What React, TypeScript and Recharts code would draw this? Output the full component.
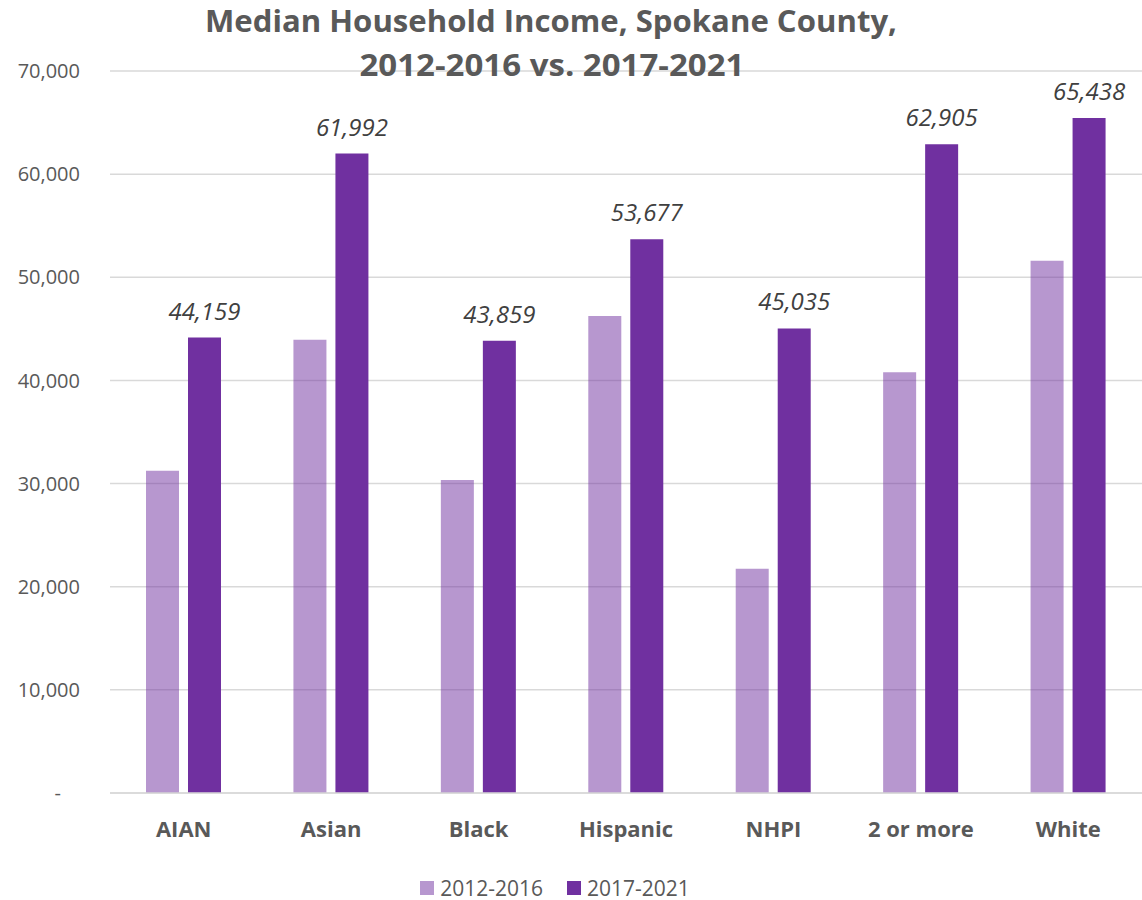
import React from "react";
import { BarChart, Bar, XAxis, YAxis, CartesianGrid, Legend, LabelList } from "recharts";

const categories = ["AIAN", "Asian", "Black", "Hispanic", "NHPI", "2 or more", "White"];
const income2012_2016 = [31250, 43950, 30350, 46250, 21750, 40800, 51600];
const income2017_2021 = [44159, 61992, 43859, 53677, 45035, 62905, 65438];
const yTicks = [0, 10000, 20000, 30000, 40000, 50000, 60000, 70000];
const seriesNames = ["2012-2016", "2017-2021"];
const titleLines = ["Median Household Income, Spokane County,", "2012-2016 vs. 2017-2021"];

const data = categories.map((c, i) => ({
  name: c,
  a: income2012_2016[i],
  b: income2017_2021[i],
}));

const PURPLE = "#7030A0";
const GREY = "#595959";
const FONT = "'Open Sans', sans-serif";

const fmt = (v: number) => v.toLocaleString("en-US");

const YTick = (props: any) => {
  const { x, y, payload } = props;
  const v = payload.value;
  return (
    <text
      x={v === 0 ? x - 19 : x}
      y={y}
      dy="0.355em"
      textAnchor="end"
      fill={GREY}
      fontFamily={FONT}
      fontSize={20}
    >
      {v === 0 ? "-" : fmt(v)}
    </text>
  );
};

const LegendContent = () => (
  <div
    style={{
      display: "flex",
      justifyContent: "center",
      alignItems: "center",
      height: 47,
      paddingTop: 22,
      boxSizing: "border-box",
      fontFamily: FONT,
      fontSize: 21,
      color: GREY,
      marginLeft: -32,
    }}
  >
    {seriesNames.map((n, i) => (
      <div key={n} style={{ display: "flex", alignItems: "center", marginRight: i === 0 ? 24 : 0 }}>
        <span
          style={{
            display: "inline-block",
            width: 14,
            height: 14,
            background: PURPLE,
            opacity: i === 0 ? 0.5 : 1,
            marginRight: 6,
          }}
        />
        <span>{n}</span>
      </div>
    ))}
  </div>
);

export default function App() {
  return (
    <div style={{ position: "absolute", left: 0, top: 0, width: 1142, height: 900, background: "#fff" }}>
      <BarChart
        width={1142}
        height={900}
        data={data}
        margin={{ top: 71, right: 0, bottom: 0, left: 0 }}
        barSize={33}
        barGap={9}
      >
        <CartesianGrid vertical={false} stroke="#D9D9D9" strokeWidth={1.5} />
        <XAxis
          dataKey="name"
          height={60}
          axisLine={{ stroke: "#D9D9D9", strokeWidth: 1.5 }}
          tickLine={false}
          tickSize={0}
          tickMargin={28}
          tick={{ fill: GREY, fontFamily: FONT, fontSize: 22, fontWeight: 700 }}
        />
        <YAxis
          width={110}
          domain={[0, 70000]}
          ticks={yTicks}
          axisLine={false}
          tickLine={false}
          tickSize={0}
          tickMargin={30}
          tick={<YTick />}
        />
        <Legend verticalAlign="bottom" height={47} content={<LegendContent />} />
        <Bar dataKey="a" name={seriesNames[0]} fill={PURPLE} fillOpacity={0.5} isAnimationActive={false} />
        <Bar dataKey="b" name={seriesNames[1]} fill={PURPLE} isAnimationActive={false}>
          <LabelList
            dataKey="b"
            position="top"
            offset={18}
            formatter={(v: any) => fmt(Number(v))}
            fill="#404040"
            fontFamily={FONT}
            fontSize={24}
            fontStyle="italic"
          />
        </Bar>
      </BarChart>
      <svg
        width={1142}
        height={90}
        style={{ position: "absolute", left: 0, top: 0, pointerEvents: "none" }}
      >
        <text
          x={551}
          y={32}
          textAnchor="middle"
          fill={GREY}
          fontFamily={FONT}
          fontWeight={700}
          fontSize={31}
          textLength={692}
          lengthAdjust="spacingAndGlyphs"
        >
          {titleLines[0]}
        </text>
        <text
          x={552}
          y={76}
          textAnchor="middle"
          fill={GREY}
          fontFamily={FONT}
          fontWeight={700}
          fontSize={31}
          textLength={385}
          lengthAdjust="spacingAndGlyphs"
        >
          {titleLines[1]}
        </text>
      </svg>
    </div>
  );
}
